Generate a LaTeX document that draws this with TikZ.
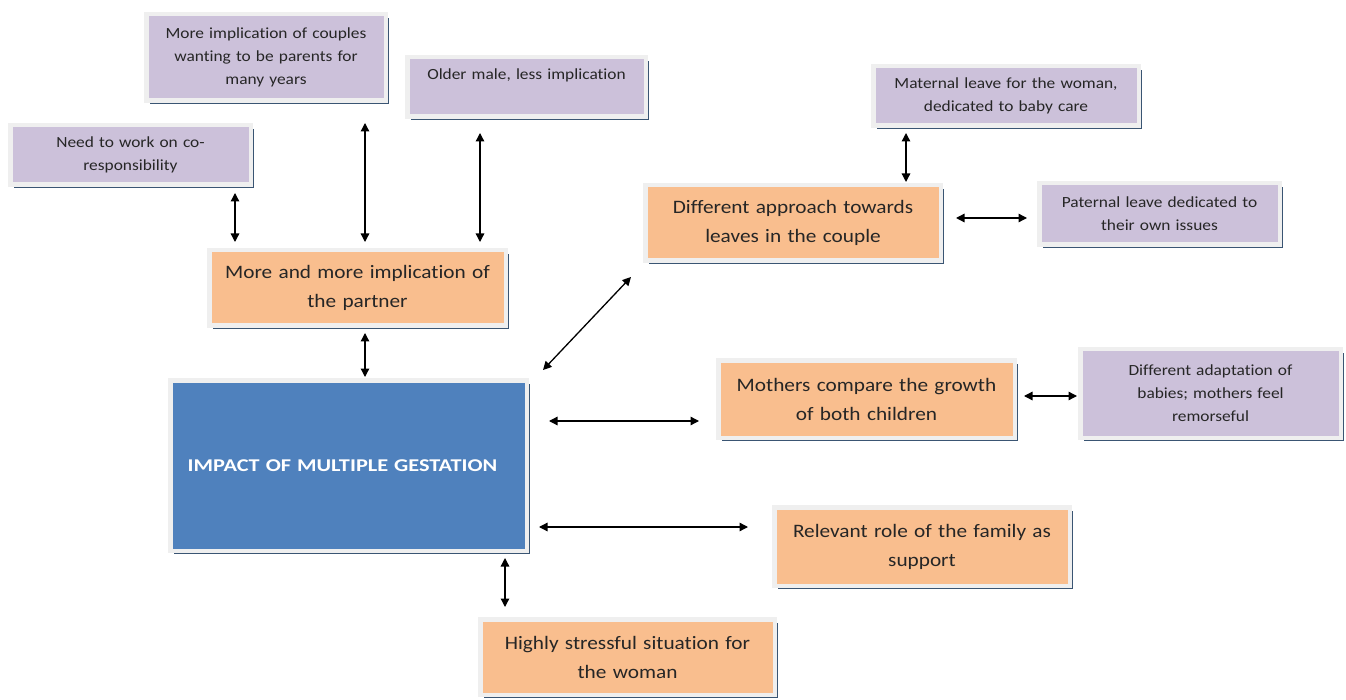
\documentclass[tikz,border=0pt]{standalone}
\usepackage{fontspec}
\setmainfont{Carlito}[FakeStretch=1.12, Ligatures=NoCommon]
\newfontfamily\headfont{Carlito}[FakeStretch=1.24, Ligatures=NoCommon]
\usetikzlibrary{arrows.meta,shadows,calc}
\definecolor{lilac}{HTML}{CCC1DA}
\definecolor{peach}{HTML}{F9BE8E}
\definecolor{steel}{HTML}{4F81BD}
\definecolor{frame}{HTML}{EFEFEF}
\definecolor{edge}{HTML}{3A5573}
\definecolor{ink}{HTML}{262626}
\begin{document}
\begin{tikzpicture}[x=1pt,y=-1pt,
  box/.style={draw=frame, line width=4.5pt, inner sep=2pt, align=center,
    text=ink, font=\fontsize{15.5}{23}\selectfont,
    drop shadow={shadow xshift=3.5pt, shadow yshift=-3.5pt, fill=edge, opacity=1}},
  pbox/.style={box, fill=lilac},
  obox/.style={box, fill=peach, font=\fontsize{19}{29}\selectfont},
  bbox/.style={box, fill=steel, text=white, font=\headfont\bfseries\fontsize{18}{22}\selectfont},
  dbl/.style={{Triangle[length=8.5pt,width=8.5pt]}-{Triangle[length=8.5pt,width=8.5pt]}, line width=1.3pt, black}]
\useasboundingbox (0,0) rectangle (1346,700);

% purple detail boxes
\node[pbox, minimum width=239.5pt, minimum height=86.5pt, text width=225pt] (couples) at (266,57.5)
  {More implication of couples\\ wanting to be parents for\\ many years};
\node[pbox, minimum width=238.5pt, minimum height=59.5pt, text width=225pt, text height=10pt, text depth=24pt] (older) at (526.5,87)
  {Older male, less implication};
\node[pbox, minimum width=240.5pt, minimum height=59.5pt, text width=225pt] (need) at (130.5,155)
  {Need to work on co-\\ responsibility};
\node[pbox, minimum width=265.5pt, minimum height=59.5pt, text width=250pt] (maternal) at (1006,96)
  {Maternal leave for the woman,\\ dedicated to baby care};
\node[pbox, minimum width=240.5pt, minimum height=61.5pt, text width=225pt] (paternal) at (1159.5,214)
  {Paternal leave dedicated to\\ their own issues};
\node[pbox, minimum width=260.5pt, minimum height=88.5pt, text width=245pt] (adapt) at (1210.5,393.5)
  {Different adaptation of\\ babies; mothers feel\\ remorseful};

% orange theme boxes
\node[obox, minimum width=296.5pt, minimum height=75.5pt, text width=285pt] (partner) at (357.5,288)
  {More and more implication of\\ the partner};
\node[obox, minimum width=295.5pt, minimum height=75.5pt, text width=285pt] (approach) at (793,223)
  {Different approach towards\\ leaves in the couple};
\node[obox, minimum width=296.5pt, minimum height=77.5pt, text width=285pt] (mothers) at (866.5,399)
  {Mothers compare the growth\\ of both children};
\node[obox, minimum width=295.5pt, minimum height=78.5pt, text width=285pt] (family) at (922,546.5)
  {Relevant role of the family as\\ support};
\node[obox, minimum width=294.5pt, minimum height=75.5pt, text width=285pt] (stress) at (627.5,657)
  {Highly stressful situation for\\ the woman};

% central box
\node[bbox, minimum width=356.5pt, minimum height=170.5pt, text width=345pt] (impact) at (348.5,465.5)
  {\hspace*{-12pt}IMPACT OF MULTIPLE GESTATION};

% connectors
\draw[dbl, shorten <=6pt, shorten >=6pt] (need.south -| 235,0) -- (partner.north -| 235,0);
\draw[dbl, shorten <=20pt, shorten >=6pt] (couples.south -| 365,0) -- (partner.north -| 365,0);
\draw[dbl, shorten <=14pt, shorten >=6pt] (older.south -| 480,0) -- (partner.north -| 480,0);
\draw[dbl, shorten <=5pt, shorten >=1pt] (partner.south -| 365,0) -- (impact.north -| 365,0);
\draw[dbl] ($(impact.north east)+(14,-8)$) -- ($(approach.south west)+(-12,14)$);
\draw[dbl, shorten <=5pt, shorten >=1pt] (maternal.south -| 906,0) -- (approach.north -| 906,0);
\draw[dbl, shorten <=13pt, shorten >=10pt] (approach.east |- 0,218) -- (paternal.west |- 0,218);
\draw[dbl, shorten <=20pt, shorten >=17pt] (impact.east |- 0,421) -- (mothers.west |- 0,421);
\draw[dbl, shorten <=7pt, shorten >=1pt] (mothers.east |- 0,396) -- (adapt.west |- 0,396);
\draw[dbl, shorten <=10pt, shorten >=24pt] (impact.east |- 0,527) -- (family.west |- 0,527);
\draw[dbl, shorten <=5pt, shorten >=10pt] (impact.south -| 505,0) -- (stress.north -| 505,0);
\end{tikzpicture}
\end{document}
